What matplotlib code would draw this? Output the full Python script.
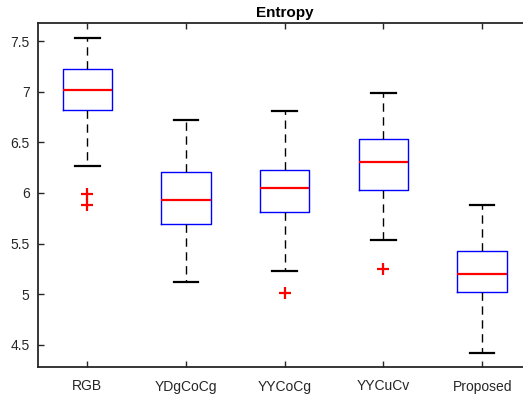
import numpy as np
import matplotlib.pyplot as plt

plt.rcParams['font.family'] = ['Liberation Sans', 'DejaVu Sans']

# box statistics
names = ['RGB', 'YDgCoCg', 'YYCoCg', 'YYCuCv', 'Proposed']
whis_lo = [6.27, 5.12, 5.23, 5.54, 4.42]
q1 = [6.82, 5.69, 5.81, 6.03, 5.02]
med = [7.02, 5.93, 6.05, 6.31, 5.20]
q3 = [7.23, 6.21, 6.23, 6.53, 5.43]
whis_hi = [7.53, 6.72, 6.81, 6.99, 5.88]
outliers = [[5.99, 5.88], [], [5.01], [5.25], []]

stats = []
for i in range(len(names)):
	stats.append(dict(label=names[i], whislo=whis_lo[i], q1=q1[i], med=med[i],
					  q3=q3[i], whishi=whis_hi[i], fliers=outliers[i]))

fig = plt.figure(figsize=(5.23, 3.98), dpi=100)
ax = fig.add_axes([38/523, 31/398, 493.5/523, 344/398])

dark = '#262626'
ax.bxp(stats, positions=range(1, 6), widths=0.5, showfliers=True,
	   boxprops=dict(color='blue', linewidth=1.0),
	   medianprops=dict(color='red', linewidth=1.6),
	   whiskerprops=dict(color='black', linewidth=1.0, linestyle=(0, (6, 4))),
	   capprops=dict(color='black', linewidth=1.6),
	   capwidths=0.25,
	   flierprops=dict(marker='+', markeredgecolor='red', markersize=8, markeredgewidth=1.6))

ax.set_xlim(0.5, 5.5)
ax.set_ylim(4.28, 7.68)
ax.set_yticks([4.5, 5, 5.5, 6, 6.5, 7, 7.5])
ax.set_yticklabels(['4.5', '5', '5.5', '6', '6.5', '7', '7.5'])
ax.set_xticks(range(1, 6))
ax.set_xticklabels(names)

for s in ax.spines.values():
	s.set_color(dark)
	s.set_linewidth(1.3)
ax.tick_params(direction='in', length=4, width=1.0, color=dark, labelcolor=dark,
			   labelsize=10, top=True, right=True, pad=6)
ax.tick_params(axis='x', pad=9)

ax.set_title('Entropy', fontsize=11, fontweight='bold', pad=4)

fig.savefig('out.png', dpi=100)
